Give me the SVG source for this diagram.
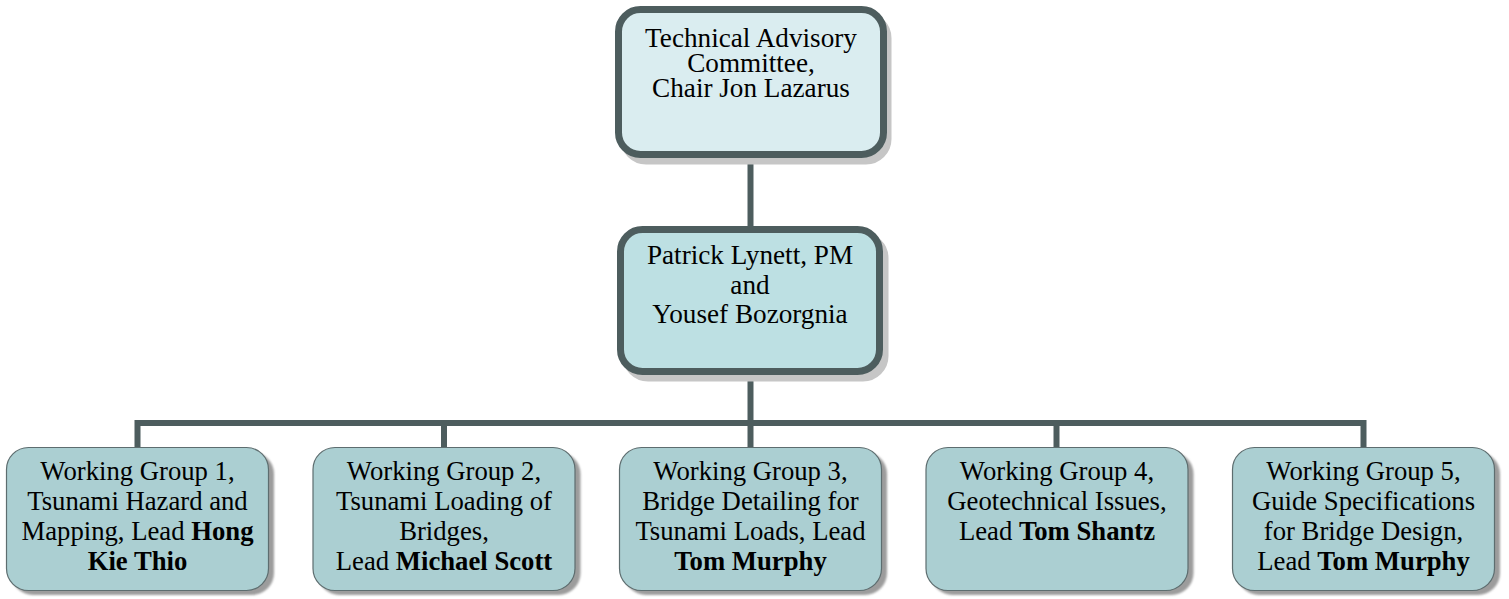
<svg xmlns="http://www.w3.org/2000/svg" width="1509" height="599" viewBox="0 0 1509 599">
<style>
  .t { font-family: "Liberation Serif", "Times New Roman", serif; font-size: 26.7px; fill: #000; text-anchor: middle; }
  .h { font-size: 27.2px; }
  .b { font-weight: bold; }
  .conn { stroke: #4d5d5e; stroke-width: 6; fill: none; }
  .bigshadow { fill: #c6c6c6; stroke: #c6c6c6; stroke-width: 7; }
  .smallshadow { fill: #9c9c9c; filter: url(#blur); }
  .wg { fill: #abcfd2; stroke: #5d6d6f; stroke-width: 1.2; }
</style>
<defs>
  <filter id="blur" x="-10%" y="-10%" width="120%" height="120%">
    <feGaussianBlur stdDeviation="1.2"/>
  </filter>
</defs>
<rect width="1509" height="599" fill="#fff"/>

<g id="connectors">
  <line class="conn" x1="750.5" y1="158" x2="750.5" y2="228"/>
  <line class="conn" x1="750.5" y1="375" x2="750.5" y2="423"/>
  <polyline class="conn" points="137.5,448 137.5,423 1363.5,423 1363.5,448"/>
  <line class="conn" x1="444" y1="423" x2="444" y2="448"/>
  <line class="conn" x1="1056.5" y1="423" x2="1056.5" y2="448"/>
  <line class="conn" x1="750.5" y1="423" x2="750.5" y2="448"/>
</g>

<g id="tac">
  <rect class="bigshadow" x="624" y="16" width="264" height="145" rx="22"/>
  <rect x="618.5" y="9.5" width="265" height="145" rx="22" fill="#daedf0" stroke="#4d5d5e" stroke-width="7"/>
  <text class="t h" x="751" y="47">Technical Advisory</text>
  <text class="t h" x="751" y="72">Committee,</text>
  <text class="t h" x="751" y="97">Chair Jon Lazarus</text>
</g>

<g id="pm">
  <rect class="bigshadow" x="626" y="236" width="259" height="142" rx="22"/>
  <rect x="620.5" y="229.5" width="259" height="142" rx="22" fill="#bde0e3" stroke="#4d5d5e" stroke-width="7"/>
  <text class="t h" x="750" y="264">Patrick Lynett, PM</text>
  <text class="t h" x="750" y="293.5">and</text>
  <text class="t h" x="750" y="323">Yousef Bozorgnia</text>
</g>

<g id="wg1">
  <rect class="smallshadow" x="11" y="452" width="263" height="143" rx="22"/>
  <rect class="wg" x="6.5" y="447.5" width="262" height="143" rx="22"/>
  <text class="t" x="137.5" y="480">Working Group 1,</text>
  <text class="t" x="137.5" y="510">Tsunami Hazard and</text>
  <text class="t" x="137.5" y="540">Mapping, Lead <tspan class="b">Hong</tspan></text>
  <text class="t b" x="137.5" y="570">Kie Thio</text>
</g>

<g id="wg2">
  <rect class="smallshadow" x="317.5" y="452" width="263" height="143" rx="22"/>
  <rect class="wg" x="313" y="447.5" width="262" height="143" rx="22"/>
  <text class="t" x="444" y="480">Working Group 2,</text>
  <text class="t" x="444" y="510">Tsunami Loading of</text>
  <text class="t" x="444" y="540">Bridges,</text>
  <text class="t" x="444" y="570">Lead <tspan class="b">Michael Scott</tspan></text>
</g>

<g id="wg3">
  <rect class="smallshadow" x="624" y="452" width="263" height="143" rx="22"/>
  <rect class="wg" x="619.5" y="447.5" width="262" height="143" rx="22"/>
  <text class="t" x="750.5" y="480">Working Group 3,</text>
  <text class="t" x="750.5" y="510">Bridge Detailing for</text>
  <text class="t" x="750.5" y="540">Tsunami Loads, Lead</text>
  <text class="t b" x="750.5" y="570">Tom Murphy</text>
</g>

<g id="wg4">
  <rect class="smallshadow" x="930.5" y="452" width="263" height="143" rx="22"/>
  <rect class="wg" x="926" y="447.5" width="262" height="143" rx="22"/>
  <text class="t" x="1057" y="480">Working Group 4,</text>
  <text class="t" x="1057" y="510">Geotechnical Issues,</text>
  <text class="t" x="1057" y="540">Lead <tspan class="b">Tom Shantz</tspan></text>
</g>

<g id="wg5">
  <rect class="smallshadow" x="1237" y="452" width="263" height="143" rx="22"/>
  <rect class="wg" x="1232.5" y="447.5" width="262" height="143" rx="22"/>
  <text class="t" x="1363.5" y="480">Working Group 5,</text>
  <text class="t" x="1363.5" y="510">Guide Specifications</text>
  <text class="t" x="1363.5" y="540">for Bridge Design,</text>
  <text class="t" x="1363.5" y="570">Lead <tspan class="b">Tom Murphy</tspan></text>
</g>
</svg>
